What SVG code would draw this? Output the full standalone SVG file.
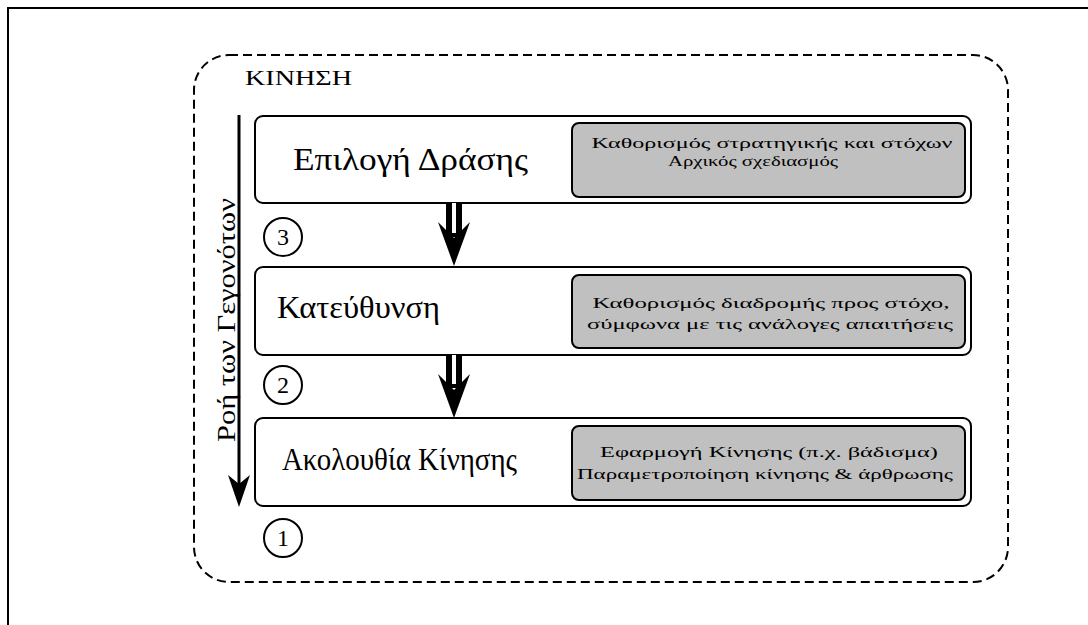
<svg xmlns="http://www.w3.org/2000/svg" width="1088" height="625" viewBox="0 0 1088 625">
<style>
.serif{font-family:"Liberation Serif","DejaVu Serif",serif;fill:#000}
.outer{fill:#fff;stroke:#000;stroke-width:2}
.inner{fill:#c0c0c0;stroke:#000;stroke-width:2}
.lbl{font-size:31px}
.sm{font-size:15px;text-anchor:middle}
.num{font-size:24px;text-anchor:middle}
.circ{fill:none;stroke:#000;stroke-width:2}
</style>
<rect width="1088" height="625" fill="#fff"/>
<path d="M8,625 V8 H1088" fill="none" stroke="#000" stroke-width="2"/>
<g id="kinisi">
<rect x="194" y="55" width="814" height="527" rx="35" fill="none" stroke="#000" stroke-width="2" stroke-dasharray="9 5"/>
<text class="serif" x="245" y="85" font-size="22" textLength="107" lengthAdjust="spacingAndGlyphs">ΚΙΝΗΣΗ</text>
</g>
<g id="flow">
<line x1="239" y1="115" x2="239" y2="486" stroke="#000" stroke-width="3"/>
<path d="M239,507 L228,475 L239,484 L250,475 Z" fill="#000"/>
<text class="serif" transform="translate(235,442) rotate(-90)" font-size="26" textLength="244" lengthAdjust="spacingAndGlyphs">Ροή των Γεγονότων</text>
</g>
<g id="node-epilogi">
<rect class="outer" x="255" y="116" width="716" height="87" rx="8"/>
<text class="serif lbl" x="293" y="170" textLength="235" lengthAdjust="spacingAndGlyphs">Επιλογή Δράσης</text>
<rect class="inner" x="572" y="123" width="393" height="74" rx="7"/>
<text class="serif sm" x="772" y="148" textLength="361" lengthAdjust="spacingAndGlyphs">Καθορισμός στρατηγικής και στόχων</text>
<text class="serif sm" x="753" y="166" textLength="170" lengthAdjust="spacingAndGlyphs">Αρχικός σχεδιασμός</text>
</g>
<g id="node-kateuthynsi">
<rect class="outer" x="255" y="267" width="716" height="88" rx="8"/>
<text class="serif lbl" x="277" y="318" textLength="163" lengthAdjust="spacingAndGlyphs">Κατεύθυνση</text>
<rect class="inner" x="572" y="275" width="393" height="73" rx="7"/>
<text class="serif sm" x="771" y="308" textLength="357" lengthAdjust="spacingAndGlyphs">Καθορισμός διαδρομής προς στόχο,</text>
<text class="serif sm" x="770" y="329" textLength="366" lengthAdjust="spacingAndGlyphs">σύμφωνα με τις ανάλογες απαιτήσεις</text>
</g>
<g id="node-akolouthia">
<rect class="outer" x="255" y="418" width="716" height="88" rx="8"/>
<text class="serif lbl" x="282" y="470" textLength="235" lengthAdjust="spacingAndGlyphs">Ακολουθία Κίνησης</text>
<rect class="inner" x="572" y="426" width="393" height="74" rx="7"/>
<text class="serif sm" x="769" y="457" textLength="338" lengthAdjust="spacingAndGlyphs">Εφαρμογή Κίνησης (π.χ. βάδισμα)</text>
<text class="serif sm" x="765" y="479" textLength="376" lengthAdjust="spacingAndGlyphs">Παραμετροποίηση κίνησης &amp; άρθρωσης</text>
</g>
<g id="n3"><circle class="circ" cx="283" cy="237" r="19"/><text class="serif num" x="283" y="245">3</text></g>
<g id="n2"><circle class="circ" cx="283" cy="385" r="19"/><text class="serif num" x="283" y="393">2</text></g>
<g id="n1"><circle class="circ" cx="283" cy="538" r="19"/><text class="serif num" x="283" y="546">1</text></g>
<g id="connectors">
<g>
<rect x="446" y="203" width="16" height="34" fill="#000"/>
<rect x="452" y="203" width="4" height="30" fill="#fff"/>
<path d="M454,266 L438,222 L454,238 L470,222 Z" fill="#000"/>
</g>
<g>
<rect x="446" y="355" width="16" height="33" fill="#000"/>
<rect x="452" y="355" width="4" height="29" fill="#fff"/>
<path d="M454,418 L438,374 L454,390 L470,374 Z" fill="#000"/>
</g>
</g>
</svg>
